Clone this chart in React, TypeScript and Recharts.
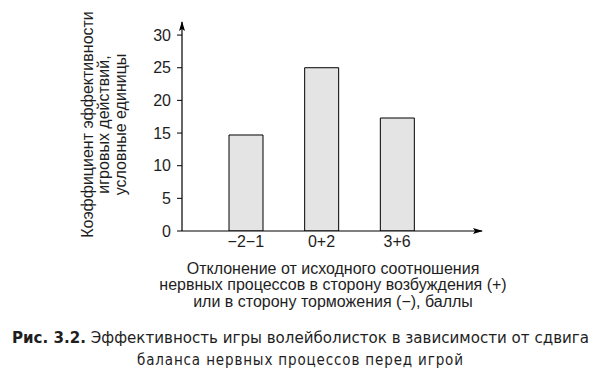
import { BarChart, Bar, XAxis, YAxis, Label } from 'recharts'

const categories = ['\u22122\u22121', '0+2', '3+6']
const efficiency = [14.7, 25.0, 17.3]
const yTicks = [0, 5, 10, 15, 20, 25, 30]

const yTitle = ['Коэффициент эффективности', 'игровых действий,', 'условные единицы']
const xTitle = [
  'Отклонение от исходного соотношения',
  'нервных процессов в сторону возбуждения (+)',
  'или в сторону торможения (\u2212), баллы',
]

const data = categories.map((c, i) => ({ name: c, value: efficiency[i] }))

const font = '"Liberation Sans", Arial, sans-serif'
const ink = '#1e1e1e'

const YTitle = ({ viewBox }: any) => {
  const cy = viewBox.y + viewBox.height / 2 - 2
  const x0 = 87
  return (
    <g>
      {yTitle.map((t, i) => (
        <text
          key={t}
          x={x0 + i * 16.5}
          y={cy}
          transform={`rotate(-90 ${x0 + i * 16.5} ${cy})`}
          textAnchor="middle"
          dominantBaseline="central"
          fontSize={16}
          fill={ink}
          fontFamily={font}
        >
          {t}
        </text>
      ))}
    </g>
  )
}

const XTitle = ({ viewBox }: any) => {
  const cx = viewBox.x + viewBox.width / 2 + 1
  return (
    <g>
      {xTitle.map((t, i) => (
        <text
          key={t}
          x={cx}
          y={268 + i * 16.5}
          textAnchor="middle"
          dominantBaseline="central"
          fontSize={16}
          fill={ink}
          fontFamily={font}
        >
          {t}
        </text>
      ))}
    </g>
  )
}

export default function App() {
  return (
    <div style={{ position: 'absolute', left: 0, top: 0, width: 592, height: 377, background: '#fff' }}>
      <BarChart
        width={592}
        height={377}
        data={data}
        margin={{ top: 22, right: 110, left: 0, bottom: 77 }}
      >
        <defs>
          <marker id="arrow" viewBox="0 0 10 6" refX="9" refY="3" markerWidth="10" markerHeight="6" markerUnits="userSpaceOnUse" orient="auto-start-reverse">
            <path d="M0,0 L10,3 L0,6 L2,3 Z" fill="#000" />
          </marker>
        </defs>
        <XAxis
          dataKey="name"
          height={69}
          padding={{ left: 26, right: 47 }}
          tickLine={false}
          tickSize={3}
          tickMargin={2}
          axisLine={{ stroke: '#000', strokeWidth: 1.2, markerEnd: 'url(#arrow)' } as any}
          tick={{ fill: ink, fontSize: 16, fontFamily: font }}
        >
          <Label content={<XTitle />} />
        </XAxis>
        <YAxis
          width={182}
          domain={[0, 32]}
          ticks={yTicks}
          tickSize={5}
          tickMargin={6}
          interval={0}
          allowDataOverflow
          axisLine={{ stroke: '#000', strokeWidth: 1.2, markerStart: 'url(#arrow)' } as any}
          tickLine={{ stroke: '#000' }}
          tick={{ fill: ink, fontSize: 16, fontFamily: font }}
        >
          <Label content={<YTitle />} />
        </YAxis>
        <Bar dataKey="value" barSize={34} fill="#e4e4e4" stroke="#000" strokeWidth={1} isAnimationActive={false} />
      </BarChart>
      <svg
        width={592}
        height={50}
        style={{ position: 'absolute', left: 0, top: 325 }}
        fontFamily='"DejaVu Sans Condensed", "Open Sans", sans-serif'
        fontSize={15}
        fill={ink}
      >
        <text x={12} y={18} textLength={577} lengthAdjust="spacingAndGlyphs">
          <tspan fontWeight="bold">Рис. 3.2.</tspan> Эффективность игры волейболисток в зависимости от сдвига
        </text>
        <text x={137} y={40} textLength={326} lengthAdjust="spacing">
          баланса нервных процессов перед игрой
        </text>
      </svg>
    </div>
  )
}
